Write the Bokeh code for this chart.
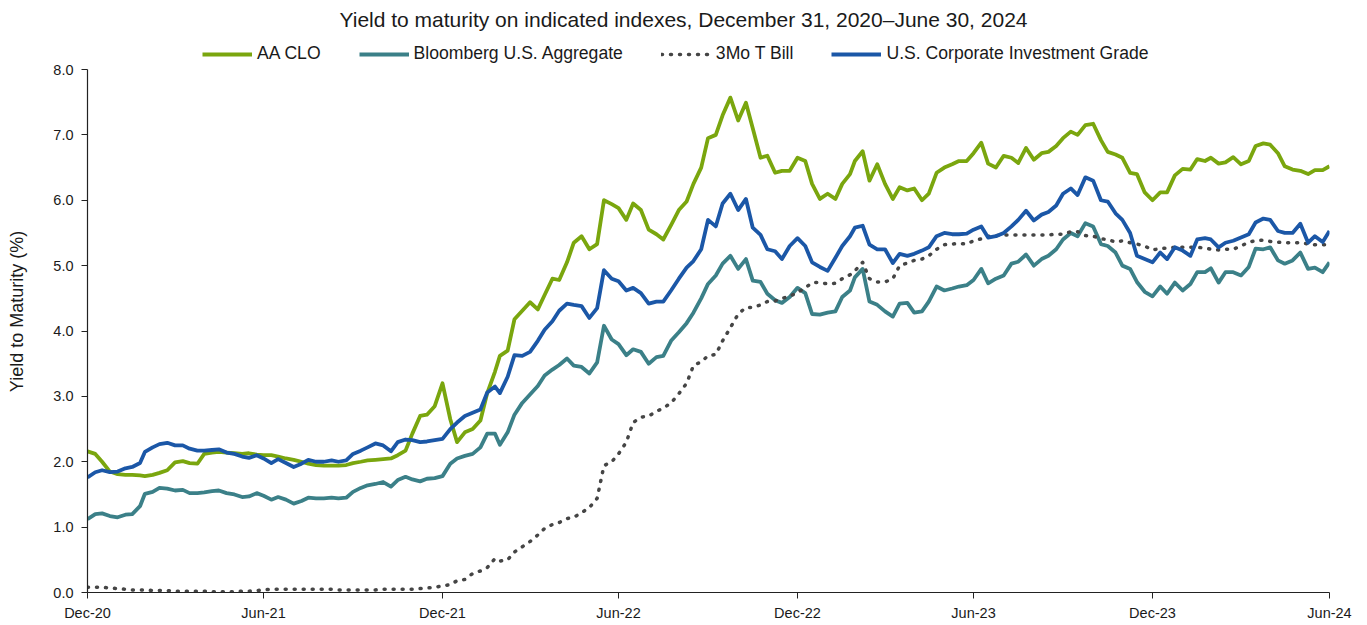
import pandas as pd
from bokeh.plotting import figure
from bokeh.models import (Range1d, Legend, LegendItem, FixedTicker, DatetimeTickFormatter,
                          PrintfTickFormatter)
from bokeh.embed import file_html
from bokeh.resources import INLINE

# ---- data: readings on Dec 31 2020, then the 8th, 15th, 23rd and last day of each month ----
start_date = "2020-12-31"
end_date = "2024-06-30"
tick_dates = ["2020-12-31", "2021-06-30", "2021-12-31", "2022-06-30",
              "2022-12-31", "2023-06-30", "2023-12-31", "2024-06-30"]
y_ticks = [0, 1, 2, 3, 4, 5, 6, 7, 8]

aa_clo = [2.16,
          2.12, 2.00, 1.85, 1.81, 1.80, 1.80, 1.79, 1.78, 1.80, 1.83, 1.87, 1.99,
          2.01, 1.98, 1.97, 2.12, 2.14, 2.15, 2.14, 2.13, 2.12, 2.13, 2.11, 2.10,
          2.10, 2.08, 2.05, 2.03, 2.00, 1.97, 1.95, 1.94, 1.94, 1.94, 1.95, 1.98,
          2.00, 2.02, 2.03, 2.04, 2.05, 2.10, 2.17, 2.43, 2.70, 2.72, 2.85, 3.20,
          2.65, 2.30, 2.45, 2.50, 2.63, 3.05, 3.38, 3.62, 3.70, 4.18, 4.31, 4.44,
          4.33, 4.55, 4.80, 4.78, 5.05, 5.35, 5.45, 5.25, 5.33, 6.00, 5.94, 5.88,
          5.70, 5.95, 5.85, 5.55, 5.48, 5.40, 5.62, 5.85, 5.98, 6.25, 6.50, 6.95,
          7.00, 7.30, 7.57, 7.22, 7.49, 7.10, 6.65, 6.68, 6.42, 6.45, 6.45, 6.65,
          6.60, 6.25, 6.02, 6.10, 6.02, 6.25, 6.40, 6.60, 6.75, 6.30, 6.55, 6.25,
          6.02, 6.20, 6.15, 6.18, 6.00, 6.10, 6.42, 6.50, 6.55, 6.60, 6.60, 6.72,
          6.88, 6.56, 6.50, 6.68, 6.65, 6.57, 6.80, 6.62, 6.72, 6.74, 6.83, 6.95,
          7.05, 7.00, 7.15, 7.17, 6.92, 6.74, 6.70, 6.65, 6.42, 6.40, 6.12, 6.00,
          6.12, 6.12, 6.38, 6.48, 6.47, 6.63, 6.60, 6.65, 6.56, 6.58, 6.66, 6.55,
          6.60, 6.83, 6.87, 6.85, 6.72, 6.52, 6.47, 6.45, 6.40, 6.46, 6.46, 6.52]

bbg_agg = [1.12,
           1.20, 1.21, 1.17, 1.15, 1.19, 1.20, 1.32, 1.51, 1.54, 1.60, 1.59, 1.56,
           1.57, 1.52, 1.52, 1.53, 1.55, 1.56, 1.52, 1.50, 1.46, 1.47, 1.52, 1.48,
           1.42, 1.46, 1.42, 1.36, 1.40, 1.45, 1.44, 1.44, 1.45, 1.44, 1.45, 1.54,
           1.60, 1.64, 1.66, 1.69, 1.62, 1.72, 1.77, 1.73, 1.70, 1.74, 1.75, 1.78,
           1.97, 2.05, 2.09, 2.12, 2.22, 2.43, 2.43, 2.26, 2.45, 2.72, 2.90, 3.03,
           3.16, 3.32, 3.41, 3.48, 3.58, 3.47, 3.45, 3.35, 3.52, 4.08, 3.87, 3.80,
           3.63, 3.72, 3.68, 3.50, 3.60, 3.62, 3.85, 3.98, 4.12, 4.28, 4.50, 4.72,
           4.85, 5.03, 5.15, 4.95, 5.10, 4.77, 4.75, 4.57, 4.47, 4.43, 4.52, 4.66,
           4.58, 4.26, 4.25, 4.28, 4.30, 4.52, 4.62, 4.82, 4.95, 4.45, 4.40, 4.30,
           4.22, 4.42, 4.43, 4.28, 4.30, 4.45, 4.68, 4.62, 4.65, 4.68, 4.70, 4.78,
           4.95, 4.73, 4.80, 4.85, 5.03, 5.06, 5.17, 5.00, 5.10, 5.15, 5.25, 5.40,
           5.50, 5.45, 5.65, 5.60, 5.33, 5.30, 5.20, 5.00, 4.95, 4.75, 4.60, 4.53,
           4.68, 4.57, 4.74, 4.62, 4.72, 4.90, 4.90, 4.96, 4.74, 4.90, 4.90, 4.85,
           4.98, 5.26, 5.25, 5.28, 5.08, 5.03, 5.08, 5.20, 4.95, 4.97, 4.90, 5.05]

tbill_3m = [0.08,
            0.08, 0.08, 0.07, 0.06, 0.05, 0.04, 0.04, 0.04, 0.03, 0.03, 0.03, 0.02,
            0.02, 0.02, 0.02, 0.02, 0.01, 0.01, 0.01, 0.01, 0.02, 0.02, 0.03, 0.04,
            0.05, 0.05, 0.05, 0.05, 0.05, 0.05, 0.05, 0.05, 0.05, 0.04, 0.04, 0.04,
            0.04, 0.04, 0.04, 0.05, 0.05, 0.05, 0.05, 0.05, 0.06, 0.07, 0.08, 0.10,
            0.12, 0.18, 0.20, 0.29, 0.33, 0.38, 0.52, 0.48, 0.50, 0.62, 0.70, 0.78,
            0.88, 0.98, 1.04, 1.07, 1.13, 1.15, 1.22, 1.30, 1.44, 1.94, 2.00, 2.12,
            2.30, 2.60, 2.68, 2.70, 2.77, 2.82, 2.90, 3.04, 3.20, 3.47, 3.53, 3.62,
            3.64, 3.85, 4.05, 4.26, 4.36, 4.36, 4.40, 4.45, 4.46, 4.50, 4.53, 4.59,
            4.66, 4.74, 4.74, 4.72, 4.73, 4.80, 4.86, 4.92, 5.05, 4.80, 4.75, 4.75,
            4.80, 5.00, 5.04, 5.08, 5.10, 5.15, 5.25, 5.32, 5.33, 5.34, 5.33, 5.38,
            5.41, 5.45, 5.46, 5.47, 5.47, 5.47, 5.47, 5.47, 5.47, 5.47, 5.48, 5.48,
            5.52, 5.52, 5.46, 5.45, 5.41, 5.40, 5.36, 5.38, 5.35, 5.33, 5.30, 5.24,
            5.26, 5.27, 5.28, 5.28, 5.28, 5.28, 5.27, 5.25, 5.24, 5.25, 5.25, 5.30,
            5.36, 5.38, 5.39, 5.37, 5.36, 5.35, 5.35, 5.35, 5.33, 5.32, 5.32, 5.32]

corp_ig = [1.76,
           1.84, 1.87, 1.84, 1.85, 1.90, 1.92, 1.98, 2.15, 2.22, 2.27, 2.29, 2.25,
           2.25, 2.20, 2.17, 2.17, 2.18, 2.19, 2.14, 2.12, 2.08, 2.06, 2.10, 2.05,
           1.98, 2.04, 1.98, 1.92, 1.97, 2.03, 2.00, 2.00, 2.02, 2.00, 2.02, 2.12,
           2.17, 2.22, 2.28, 2.25, 2.16, 2.30, 2.34, 2.33, 2.30, 2.31, 2.33, 2.35,
           2.50, 2.60, 2.70, 2.75, 2.80, 3.06, 3.15, 3.05, 3.30, 3.63, 3.62, 3.68,
           3.85, 4.02, 4.15, 4.31, 4.42, 4.40, 4.38, 4.20, 4.35, 4.93, 4.80, 4.76,
           4.62, 4.66, 4.58, 4.42, 4.45, 4.45, 4.62, 4.80, 4.97, 5.07, 5.25, 5.70,
           5.60, 5.95, 6.10, 5.85, 6.02, 5.58, 5.47, 5.25, 5.22, 5.10, 5.30, 5.42,
           5.30, 5.05, 4.98, 4.92, 5.12, 5.30, 5.45, 5.58, 5.61, 5.32, 5.25, 5.25,
           5.04, 5.18, 5.15, 5.18, 5.23, 5.28, 5.45, 5.50, 5.48, 5.48, 5.49, 5.55,
           5.60, 5.43, 5.45, 5.50, 5.60, 5.70, 5.84, 5.69, 5.78, 5.82, 5.92, 6.10,
           6.18, 6.08, 6.35, 6.30, 6.00, 5.98, 5.80, 5.70, 5.50, 5.15, 5.10, 5.05,
           5.20, 5.10, 5.28, 5.23, 5.15, 5.40, 5.42, 5.40, 5.28, 5.35, 5.38, 5.43,
           5.48, 5.66, 5.72, 5.70, 5.53, 5.50, 5.50, 5.64, 5.35, 5.45, 5.36, 5.53]

series_names = ["AA CLO", "Bloomberg U.S. Aggregate", "3Mo T Bill",
                "U.S. Corporate Investment Grade"]

# observation dates
dates = [pd.Timestamp(start_date)]
for per in pd.period_range("2021-01", "2024-06", freq="M"):
    for d in (8, 15, 23):
        dates.append(pd.Timestamp(year=per.year, month=per.month, day=d))
    dates.append(per.to_timestamp(how="end").normalize())

FONT = "Liberation Sans"
TXT = "#1a1a1a"

# frame: top at y=30, 8.0 at y=69, 0.0 at y=592  ->  headroom above 8.0 for the legend
Y_TOP = 8 * (592 - 30) / (592 - 69)

p = figure(width=1359, height=623, x_axis_type="datetime",
           x_range=Range1d(pd.Timestamp(start_date), pd.Timestamp(end_date)),
           y_range=Range1d(0, Y_TOP),
           output_backend="svg", toolbar_location=None,
           min_border_left=87, min_border_right=30, min_border_top=30, min_border_bottom=31)

p.title.text = "Yield to maturity on indicated indexes, December 31, 2020\u2013June 30, 2024"
p.title.align = "left"
p.title.offset = 252
p.title.standoff = 0
p.title.text_font = FONT
p.title.text_font_size = "21px"
p.title.text_font_style = "normal"
p.title.text_color = TXT

p.outline_line_color = None
p.xgrid.grid_line_color = None
p.ygrid.grid_line_color = None

specs = [
    (aa_clo, "#7AA60E", None),
    (bbg_agg, "#3B8088", None),
    (tbill_3m, "#454545", "1 8"),
    (corp_ig, "#1B57A7", None),
]
items = []
for (vals, color, dash), name in zip(specs, series_names):
    if dash:
        r = p.line(dates, vals, line_color=color, line_width=3.5, line_dash=dash,
                   line_cap="round", line_join="round")
    else:
        r = p.line(dates, vals, line_color=color, line_width=3.8, line_join="round")
    items.append(LegendItem(label=name, renderers=[r]))

legend = Legend(items=items, orientation="horizontal", location=(115, 528),
                glyph_width=50, glyph_height=14, label_standoff=5, spacing=38,
                padding=2, margin=0, border_line_color=None, background_fill_alpha=0,
                label_text_font=FONT, label_text_font_size="17.6px", label_text_color=TXT)
p.add_layout(legend, "center")

# axes
p.xaxis.ticker = FixedTicker(ticks=[pd.Timestamp(d).value / 1e6 for d in tick_dates])
p.xaxis.formatter = DatetimeTickFormatter(years="%b-%y", months="%b-%y", days="%b-%y",
                                          hours="%b-%y", minutes="%b-%y", seconds="%b-%y")
p.yaxis.ticker = FixedTicker(ticks=y_ticks)
p.yaxis.formatter = PrintfTickFormatter(format="%.1f")
p.yaxis.bounds = (y_ticks[0], y_ticks[-1])
p.yaxis.axis_label = "Yield to Maturity (%)"

for ax in (p.xaxis[0], p.yaxis[0]):
    ax.axis_line_color = "#222222"
    ax.axis_line_width = 1.2
    ax.major_tick_line_color = "#222222"
    ax.major_tick_out = 6
    ax.major_tick_in = 0
    ax.minor_tick_line_color = None
    ax.major_label_text_font = FONT
    ax.major_label_text_font_size = "14.5px"
    ax.major_label_text_color = TXT
    ax.axis_label_text_font = FONT
    ax.axis_label_text_font_size = "18px"
    ax.axis_label_text_font_style = "normal"
    ax.axis_label_text_color = TXT

p.xaxis.major_label_standoff = 6
p.yaxis.major_label_standoff = 8
p.yaxis.axis_label_standoff = 23

open("out.html", "w").write(file_html(p, INLINE))
